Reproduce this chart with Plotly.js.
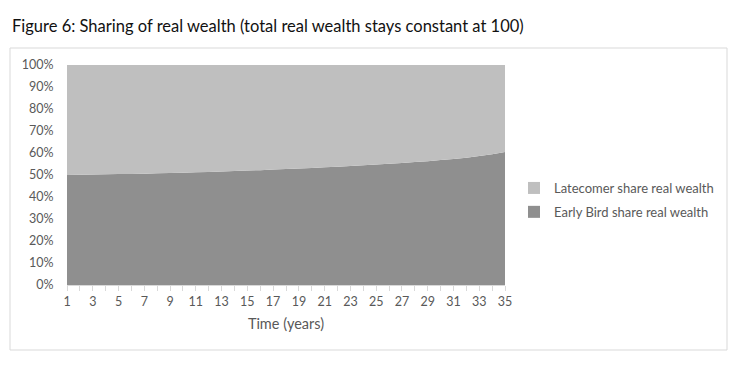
<!DOCTYPE html>
<html>
<head>
<meta charset="utf-8">
<script src="https://cdn.plot.ly/plotly-3.0.1.min.js"></script>
<style>html,body{margin:0;padding:0;background:#fff;}#chart{width:756px;height:368px;}</style>
</head>
<body>
<div id="chart"></div>
<script>
const years = [1,2,3,4,5,6,7,8,9,10,11,12,13,14,15,16,17,18,19,20,21,22,23,24,25,26,27,28,29,30,31,32,33,34,35];
const earlyBird = [50.0,50.1,50.2,50.3,50.4,50.5,50.6,50.8,50.9,51.0,51.2,51.4,51.6,51.8,52.0,52.2,52.5,52.7,53.0,53.2,53.5,53.8,54.1,54.4,54.8,55.1,55.5,55.9,56.3,56.8,57.3,57.8,58.6,59.4,60.4];
const latecomer = [50.0,49.9,49.8,49.7,49.6,49.5,49.4,49.2,49.1,49.0,48.8,48.6,48.4,48.2,48.0,47.8,47.5,47.3,47.0,46.8,46.5,46.2,45.9,45.6,45.2,44.9,44.5,44.1,43.7,43.2,42.7,42.2,41.4,40.6,39.6];
const tickLabels = years.map(y => (y % 2 === 1 ? String(y) : ''));
const yTicks = [0,10,20,30,40,50,60,70,80,90,100];
const yTickLabels = ['0%','10%','20%','30%','40%','50%','60%','70%','80%','90%','100%'];

const font = 'Lato, "Open Sans", sans-serif';
const textGrey = '#595959';
const earlyColor = '#8f8f8f';
const lateColor = '#bfbfbf';

const traces = [
  {x: years, y: earlyBird, name: 'Early Bird share real wealth', type: 'scatter', mode: 'none',
   stackgroup: 'one', fillcolor: earlyColor, line: {width: 0}, showlegend: false},
  {x: years, y: latecomer, name: 'Latecomer share real wealth', type: 'scatter', mode: 'none',
   stackgroup: 'one', fillcolor: lateColor, line: {width: 0}, showlegend: false},
  {x: [null], y: [null], name: 'Latecomer share real wealth', type: 'scatter', mode: 'markers',
   legendgroup: 'lc', marker: {symbol: 'square', size: 7, color: lateColor}, showlegend: true},
  {x: [null], y: [null], name: 'Early Bird share real wealth', type: 'scatter', mode: 'markers',
   legendgroup: 'eb', marker: {symbol: 'square', size: 7, color: earlyColor}, showlegend: true}
];

const layout = {
  width: 756, height: 368,
  margin: {l: 67, r: 251, t: 65, b: 83},
  paper_bgcolor: '#fff', plot_bgcolor: '#fff',
  font: {family: font, color: textGrey, size: 13},
  title: {text: 'Figure 6: Sharing of real wealth (total real wealth stays constant at 100)',
          x: 12/756, xanchor: 'left', xref: 'container', y: 1 - 26/368, yanchor: 'middle', yref: 'container',
          font: {family: font, size: 16.5, color: '#111'}},
  xaxis: {range: [1, 35], tickvals: years, ticktext: tickLabels, ticks: 'outside', ticklen: 5,
          tickcolor: '#d9d9d9', showline: true, linecolor: '#d9d9d9', showgrid: false, zeroline: false,
          tickfont: {size: 12.5, color: textGrey},
          title: {text: 'Time (years)', font: {size: 14.5, color: textGrey}, standoff: 10}},
  yaxis: {range: [0, 100], tickvals: yTicks, ticktext: yTickLabels, showgrid: false, zeroline: false,
          showline: false, ticks: 'outside', ticklen: 10, tickcolor: 'rgba(0,0,0,0)',
          tickfont: {size: 12.5, color: textGrey}},
  legend: {x: (514-67)/438, xanchor: 'left', y: (285-200)/220, yanchor: 'middle', traceorder: 'grouped',
           font: {size: 13, color: textGrey}, bgcolor: 'rgba(0,0,0,0)', itemwidth: 30, tracegroupgap: 4,
           itemsizing: 'constant'},
  shapes: [{type: 'rect', xref: 'paper', yref: 'paper',
            x0: (10-67)/438, x1: (727-67)/438, y0: (285-350)/220, y1: (285-48)/220,
            line: {color: '#d9d9d9', width: 1}, fillcolor: 'rgba(0,0,0,0)', layer: 'below'}],
  showlegend: true
};

Plotly.newPlot('chart', traces, layout, {displayModeBar: false, staticPlot: true});
</script>
</body>
</html>
